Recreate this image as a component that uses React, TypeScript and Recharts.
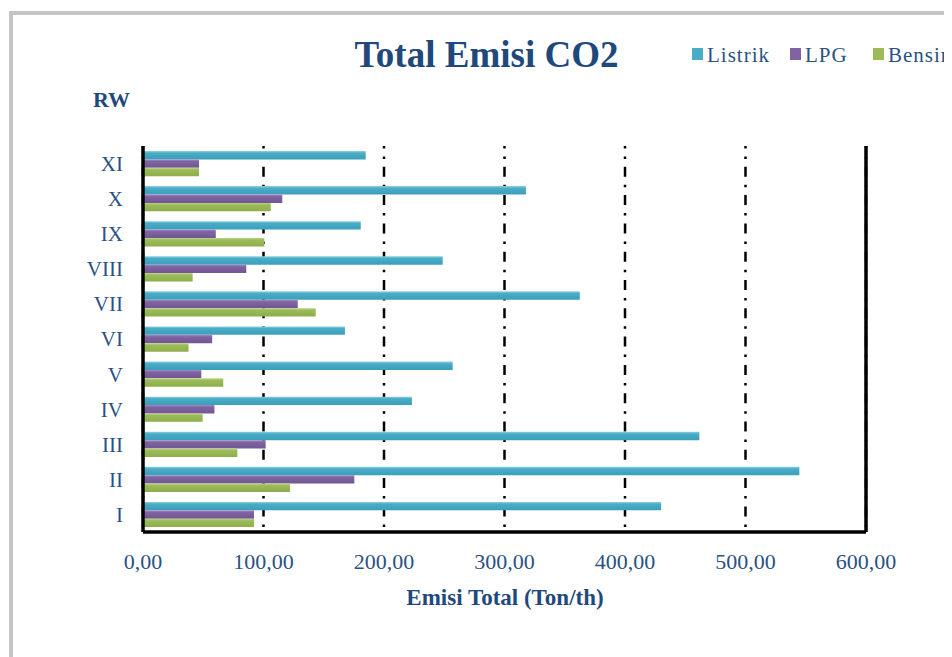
import React from 'react';
import { Bar, BarChart, CartesianGrid, ReferenceLine, XAxis, YAxis } from 'recharts';

const rwLabels = ['I', 'II', 'III', 'IV', 'V', 'VI', 'VII', 'VIII', 'IX', 'X', 'XI'];
const listrik = [430.0, 544.7, 461.7, 223.2, 257.0, 167.6, 362.5, 248.7, 180.7, 317.8, 184.8];
const lpg = [92.1, 175.4, 101.8, 59.3, 48.4, 57.4, 128.4, 85.7, 60.4, 115.6, 46.5];
const bensin = [92.1, 122.0, 78.3, 49.5, 66.6, 37.8, 143.3, 41.2, 100.7, 106.0, 46.5];
const xTicks = [0, 100, 200, 300, 400, 500, 600];

const seriesNames = ['Listrik', 'LPG', 'Bensin'];
const seriesColors = ['#4bacc6', '#8064a2', '#9bbb59'];

const FONT = "'Liberation Serif', 'Times New Roman', serif";
const NAVY = '#1f497d';
const TICK = '#2b5184';

const data = rwLabels.map((rw, i) => ({
  rw,
  listrik: listrik[i],
  lpg: lpg[i],
  bensin: bensin[i],
}));

const fmt = (v: number) => v.toFixed(2).replace('.', ',');

// legend positions (container coords)
const legendX = [684, 782, 865];

export default function App() {
  return (
    <div style={{ position: 'relative', width: 944, height: 649, overflow: 'hidden', background: '#fff' }}>
      {/* outer chart frame, cut by the window edge */}
      <div
        style={{
          position: 'absolute',
          left: 1,
          top: 3,
          width: 1000,
          height: 700,
          border: '4px solid #c4c4c4',
          boxSizing: 'border-box',
        }}
      />
      <div style={{ position: 'absolute', left: 0, top: 0 }}>
        <BarChart
          width={944}
          height={649}
          data={data}
          layout="vertical"
          margin={{ top: 138, right: 86, left: 75, bottom: 85 }}
          barGap={0}
        >
          <defs>
            <linearGradient id="gListrik" x1="0" y1="0" x2="0" y2="1">
              <stop offset="0%" stopColor="#8fd2e3" />
              <stop offset="25%" stopColor="#4bacc6" />
              <stop offset="100%" stopColor="#3a9fbb" />
            </linearGradient>
            <linearGradient id="gLpg" x1="0" y1="0" x2="0" y2="1">
              <stop offset="0%" stopColor="#a48cc2" />
              <stop offset="25%" stopColor="#8064a2" />
              <stop offset="100%" stopColor="#715693" />
            </linearGradient>
            <linearGradient id="gBensin" x1="0" y1="0" x2="0" y2="1">
              <stop offset="0%" stopColor="#bcd58a" />
              <stop offset="25%" stopColor="#9bbb59" />
              <stop offset="100%" stopColor="#8dae4b" />
            </linearGradient>
          </defs>
          <CartesianGrid
            horizontal={false}
            stroke="#000"
            strokeWidth={2.5}
            strokeDasharray="10 8 2.5 7.8"
            strokeDashoffset={7.5}
          />
          <XAxis
            type="number"
            domain={[0, 600]}
            ticks={xTicks}
            tickFormatter={fmt}
            height={40}
            axisLine={{ stroke: '#000', strokeWidth: 3.5 }}
            tickLine={false}
            tickSize={0}
            tickMargin={21}
            tick={{ fontSize: 22, fill: TICK, fontFamily: FONT }}
          />
          <YAxis
            type="category"
            dataKey="rw"
            reversed
            width={60}
            axisLine={{ stroke: '#000', strokeWidth: 3.5 }}
            tickLine={false}
            tickSize={0}
            tickMargin={20}
            tick={{ fontSize: 21, fill: TICK, fontFamily: FONT }}
          />
          <ReferenceLine x={600} stroke="#000" strokeWidth={3.5} />
          <Bar dataKey="listrik" name="Listrik" fill="url(#gListrik)" barSize={8.4} isAnimationActive={false} />
          <Bar dataKey="lpg" name="LPG" fill="url(#gLpg)" barSize={8.4} isAnimationActive={false} />
          <Bar dataKey="bensin" name="Bensin" fill="url(#gBensin)" barSize={8.4} isAnimationActive={false} />
        </BarChart>
      </div>
      <svg
        width={944}
        height={649}
        style={{ position: 'absolute', left: 0, top: 0, pointerEvents: 'none' }}
        fontFamily={FONT}
      >
        <text x={478.5} y={58.7} textAnchor="middle" fontSize={37} fontWeight="bold" fill={NAVY}>
          Total Emisi CO2
        </text>
        <text x={85} y={99} fontSize={22} fontWeight="bold" fill={NAVY}>
          RW
        </text>
        <text x={497} y={597} textAnchor="middle" fontSize={23} fontWeight="bold" fill={NAVY}>
          Emisi Total (Ton/th)
        </text>
        {seriesNames.map((name, i) => (
          <g key={name}>
            <rect x={legendX[i]} y={40} width={11} height={12} fill={seriesColors[i]} />
            <text x={legendX[i] + 15} y={53.7} fontSize={21} letterSpacing={1} fill={TICK}>
              {name}
            </text>
          </g>
        ))}
      </svg>
    </div>
  );
}
